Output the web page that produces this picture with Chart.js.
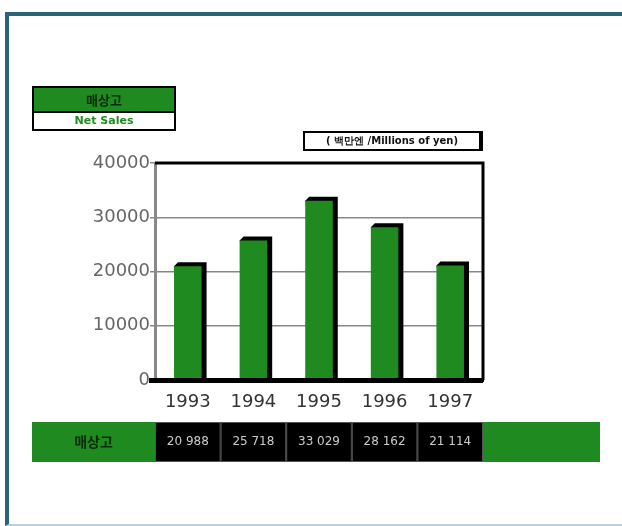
<!DOCTYPE html>
<html>
<head>
<meta charset="utf-8">
<script src="https://cdn.jsdelivr.net/npm/chart.js@4/dist/chart.umd.min.js"></script>
<style>
  body { margin: 0; background: #fff; }
  #frame { position: absolute; left: 5px; top: 12px; width: 613px; height: 508px;
    border-left: 4px solid #2b6479; border-top: 4px solid #2b6479; border-bottom: 2px solid #b6d2dc; }
  #chart { position: absolute; left: 0; top: 0; }
  .legend { position: absolute; left: 32px; top: 86px; width: 140px; height: 41px; border: 2px solid #000;
    font-family: "DejaVu Sans", sans-serif; font-weight: bold; text-align: center; }
  .legend .ko { background: #1f8a1f; height: 23px; line-height: 23px; font-size: 13px; color: #0a2a0a;
    border-bottom: 2px solid #000; font-family: "Noto Sans CJK KR", sans-serif; }
  .legend .en { height: 16px; line-height: 16px; font-size: 11px; color: #1f8a1f; }
  .unit { position: absolute; left: 303px; top: 131px; width: 174px; height: 16px; border: 2px solid #000;
    border-right-width: 4px; font-family: "DejaVu Sans", sans-serif; font-size: 10px; font-weight: bold;
    line-height: 16px; text-align: center; color: #111; }
</style>
</head>
<body>
<div id="frame"></div>
<canvas id="chart" width="622" height="526"></canvas>
<div class="legend"><div class="ko">매상고</div><div class="en">Net Sales</div></div>
<div class="unit">( 백만엔 /Millions of yen)</div>
<script>
// data
const years = ["1993", "1994", "1995", "1996", "1997"];
const netSales = [20988, 25718, 33029, 28162, 21114];
const seriesLabel = "매상고";
const yTicks = [0, 10000, 20000, 30000, 40000];

const green = "#1f8a1f";

// 3D-ish bars, plot frame and the data table underneath
const retroPlugin = {
    id: "retro",
    beforeDatasetsDraw(chart) {
        const ctx = chart.ctx;
        const area = chart.chartArea;
        ctx.save();
        // top and right wall of the plot
        ctx.strokeStyle = "#000";
        ctx.lineWidth = 3;
        ctx.beginPath();
        ctx.moveTo(area.left, area.top);
        ctx.lineTo(area.right, area.top);
        ctx.lineTo(area.right, area.bottom);
        ctx.stroke();
        // bar shadows
        chart.getDatasetMeta(0).data.forEach(bar => {
            const half = bar.width / 2;
            ctx.fillStyle = "#000";
            ctx.beginPath();
            ctx.moveTo(bar.x - half, bar.y);
            ctx.lineTo(bar.x - half + 4, bar.y - 4);
            ctx.lineTo(bar.x + half + 5, bar.y - 4);
            ctx.lineTo(bar.x + half + 5, bar.base);
            ctx.lineTo(bar.x + half, bar.base);
            ctx.closePath();
            ctx.fill();
        });
        ctx.restore();
    },
    afterDraw(chart) {
        const ctx = chart.ctx;
        const area = chart.chartArea;
        const xs = chart.scales.x;
        const top = 422, h = 40;
        ctx.save();
        // floor
        ctx.fillStyle = "#000";
        ctx.fillRect(area.left - 6, area.bottom - 2, area.right - area.left + 6, 5);
        // label and filler cells
        ctx.fillStyle = green;
        ctx.fillRect(32, top, area.left - 32, h);
        ctx.fillRect(area.right, top, 600 - area.right, h);
        ctx.fillStyle = "#0a2a0a";
        ctx.font = "bold 14px 'Noto Sans CJK KR'";
        ctx.textAlign = "center";
        ctx.textBaseline = "middle";
        ctx.fillText(seriesLabel, (32 + area.left) / 2, top + h / 2);
        // value cells
        const step = (area.right - area.left) / years.length;
        netSales.forEach((v, i) => {
            const cx = xs.getPixelForValue(i);
            ctx.fillStyle = "#000";
            ctx.fillRect(cx - step / 2, top, step, h);
            ctx.strokeStyle = "#555";
            ctx.lineWidth = 1;
            ctx.strokeRect(cx - step / 2 + 0.5, top + 0.5, step - 1, h - 1);
            ctx.fillStyle = "#ccc";
            ctx.font = "12px 'Liberation Sans Narrow', 'DejaVu Sans'";
            ctx.fillText(v.toLocaleString("en-US").replace(",", " "), cx, top + h / 2);
        });
        ctx.restore();
    }
};

new Chart(document.getElementById("chart"), {
    type: "bar",
    data: {
        labels: years,
        datasets: [{
            label: seriesLabel,
            data: netSales,
            backgroundColor: green,
            borderWidth: 0,
            barPercentage: 0.42,
            categoryPercentage: 1
        }]
    },
    options: {
        responsive: false,
        animation: false,
        layout: { padding: { left: 90, top: 163, right: 139, bottom: 111 } },
        plugins: { legend: { display: false }, tooltip: { enabled: false } },
        scales: {
            x: {
                grid: { display: false },
                border: { color: "#000", width: 3 },
                ticks: { color: "#333", font: { family: "DejaVu Sans", size: 18 }, padding: 4 },
                afterFit(s) { s.height = 35; }
            },
            y: {
                min: 0,
                max: 40000,
                afterBuildTicks(s) { s.ticks = yTicks.map(v => ({ value: v })); },
                grid: { color: "#888", lineWidth: 1.5, tickLength: 5 },
                border: { color: "#888", width: 3 },
                ticks: {
                    color: "#666",
                    font: { family: "DejaVu Sans", size: 18 },
                    padding: 0,
                    callback: v => String(v)
                },
                afterFit(s) { s.width = 65; }
            }
        }
    },
    plugins: [retroPlugin]
});
</script>
</body>
</html>
